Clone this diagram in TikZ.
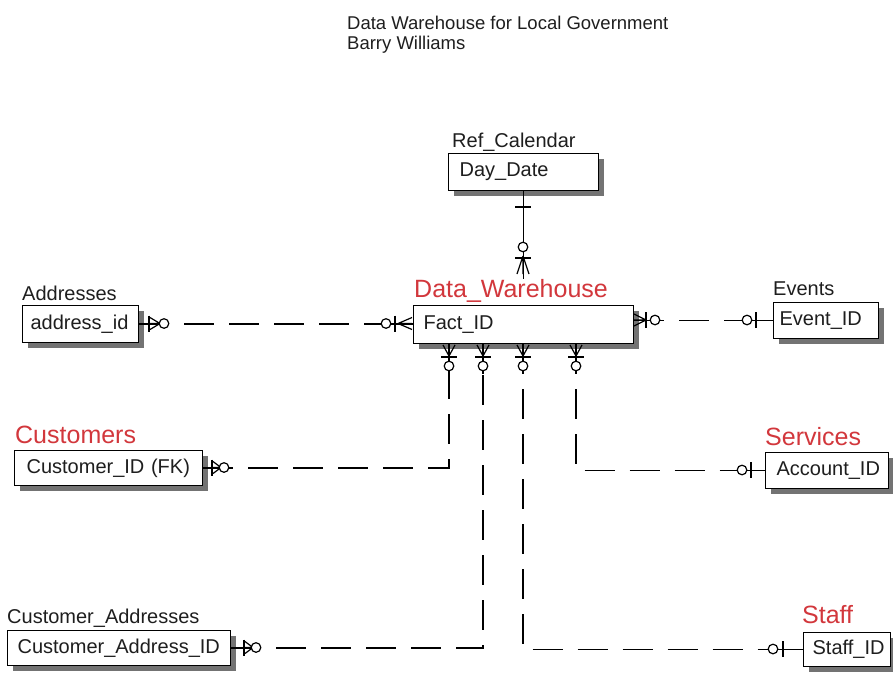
\documentclass[tikz,border=0pt]{standalone}
\usepackage{fontspec}
\setmainfont{Liberation Sans}
\usetikzlibrary{shadows,calc}
\definecolor{erred}{RGB}{210,55,60}
\definecolor{ertext}{RGB}{30,30,30}
\newcommand\ermbarH[2]{\draw[mk] (#1,#2-8) -- (#1,#2+8);}
\newcommand\ermbarV[2]{\draw[mk] (#1-8,#2) -- (#1+8,#2);}
\newcommand\ermcirc[2]{\draw[mk,fill=white] (#1,#2) circle[radius=4.8];}
\newcommand\ermcrowH[3]{\draw[mk] (#3,#2) -- (#1,#2-6) (#3,#2) -- (#1,#2) (#3,#2) -- (#1,#2+6);}
\newcommand\ermcrowV[3]{\draw[mk] (#1,#3) -- (#1-6,#2) (#1,#3) -- (#1,#2) (#1,#3) -- (#1+6,#2);}
\begin{document}
\begin{tikzpicture}[x=1pt,y=-1pt,
  ent/.style={draw=black, line width=1.2pt, fill=white, anchor=north west,
    inner ysep=0pt, align=left, text=ertext,
    font=\fontsize{20}{24}\selectfont,
    drop shadow={shadow xshift=5pt,shadow yshift=-5pt,fill=black!55,opacity=1}},
  lbl/.style={anchor=base west, inner sep=0pt, text=ertext, font=\fontsize{20}{24}\selectfont},
  redlbl/.style={anchor=base west, inner sep=0pt, text=erred, font=\fontsize{25}{30}\selectfont},
  rel/.style={line width=1.4pt, dash pattern=on 30pt off 15pt},
  stub/.style={line width=1.4pt, solid},
  mk/.style={line width=1.2pt, solid}]
\useasboundingbox (0,0) rectangle (893,675);

% title
\node[anchor=north west, inner sep=0pt, align=left, text=ertext,
      font=\fontsize{18.5}{19.5}\selectfont] (title) at (347,16)
  {Data Warehouse for Local Government\\Barry Williams};

% entities
\node[lbl] (calT) at (452,147) {Ref\_Calendar};
\node[ent, inner xsep=11pt, text width=128pt, minimum height=37pt] (cal) at (448,153) {\mbox{Day\_Date}};

\node[ent, inner xsep=10pt, text width=200pt, minimum height=38pt] (dw) at (413,305) {\mbox{Fact\_ID}};

\node[lbl] (addrT) at (22,300) {Addresses};
\node[ent, inner xsep=8pt, text width=100pt, minimum height=37pt] (addr) at (22,305) {\mbox{address\_id}};

\node[lbl] (evT) at (773,295) {Events};
\node[ent, inner xsep=6pt, text width=93pt, minimum height=36pt] (events) at (773,302) {\mbox{Event\_ID}};

\node[redlbl] (custT) at (15,443) {Customers};
\node[ent, inner xsep=12pt, text width=164pt, minimum height=35pt] (cust) at (14,450) {\mbox{Customer\_ID (FK)}};

\node[redlbl] (servT) at (765,445) {Services};
\node[ent, inner xsep=11pt, text width=101pt, minimum height=36pt] (services) at (765,452) {\mbox{Account\_ID}};

\node[lbl] (caT) at (7,623) {Customer\_Addresses};
\node[ent, inner xsep=10pt, text width=203pt, minimum height=35pt] (custaddr) at (7,630) {\mbox{Customer\_Address\_ID}};

\node[redlbl] (staffT) at (802,623) {Staff};
\node[ent, inner xsep=9pt, text width=69pt, minimum height=34pt] (staff) at (803,632) {\mbox{Staff\_ID}};

% drop points under Data_Warehouse
\coordinate (p1) at ($(dw.south west)+(36,0)$);
\coordinate (p2) at ($(dw.south west)+(70,0)$);
\coordinate (p3) at ($(dw.south west)+(110,0)$);
\coordinate (p4) at ($(dw.south west)+(163,0)$);

% Ref_Calendar -- Data_Warehouse
\node[redlbl, fill=white] (dwT) at (414,297) {Data\_Warehouse};
\draw[stub] (cal.south) -- (cal.south |- dwT.north);
\ermbarV{523}{207}
\ermcirc{523}{247}
\ermbarV{523}{258}
\ermcrowV{523}{274}{256}

% Addresses -- Data_Warehouse
\draw[rel] (addr.east) -- (addr.east -| dw.west);
\draw[stub] (addr.east) -- ++(28,0);
\draw[stub] (addr.east -| dw.west) -- ++(-35,0);
\ermbarH{149}{323.5}
\ermcrowH{150}{323.5}{160}
\ermcirc{164}{323.5}
\ermcirc{386}{323.5}
\ermbarH{395}{323.5}
\ermcrowH{412}{323.5}{398}

% Data_Warehouse -- Events
\draw[rel] (events.west -| dw.east) -- (events.west);
\draw[stub] (events.west -| dw.east) -- ++(30,0);
\draw[stub] (events.west) -- ++(-30,0);
\ermcrowH{634}{320}{646}
\ermbarH{646}{320}
\ermcirc{655}{320}
\ermcirc{747}{320}
\ermbarH{756}{320}

% Customers -- Data_Warehouse
\draw[rel] (cust.east) -| (p1);
\draw[stub] (cust.east) -- ++(25,0);
\draw[stub] (p1) -- ++(0,30);
\ermbarH{212}{467.5}
\ermcrowH{213}{467.5}{221}
\ermcirc{224}{467.5}

% Customer_Addresses -- Data_Warehouse
\draw[rel] (custaddr.east) -| (p2);
\draw[stub] (custaddr.east) -- ++(28,0);
\draw[stub] (p2) -- ++(0,30);
\ermbarH{244}{647.5}
\ermcrowH{245}{647.5}{253}
\ermcirc{256}{647.5}

% Data_Warehouse -- Staff
\draw[rel] (p3) |- (staff.west);
\draw[stub] (p3) -- ++(0,30);
\draw[stub] (staff.west) -- ++(-32,0);
\ermcirc{773}{649}
\ermbarH{783}{649}

% Data_Warehouse -- Services
\draw[rel] (p4) |- (services.west);
\draw[stub] (p4) -- ++(0,30);
\draw[stub] (services.west) -- ++(-30,0);
\ermcirc{742}{470}
\ermbarH{751}{470}

% crow's feet and optional circles under Data_Warehouse
\foreach \xx in {449,483,523,576}{
  \ermcrowV{\xx}{345}{356}
  \ermbarV{\xx}{357}
  \ermcirc{\xx}{366}
}
\end{tikzpicture}
\end{document}
